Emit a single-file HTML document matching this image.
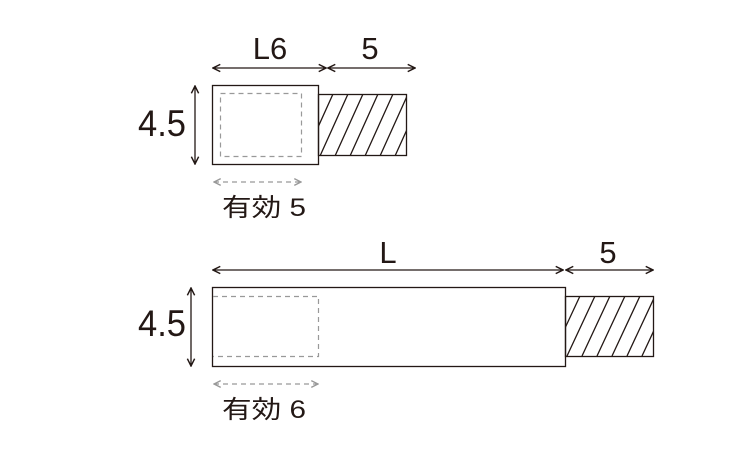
<!DOCTYPE html>
<html><head><meta charset="utf-8"><style>
html,body{margin:0;padding:0;background:#fff;}
svg{display:block;}
text{font-family:"Liberation Sans","Noto Sans CJK JP",sans-serif;fill:#231815;}
</style></head><body>
<svg width="750" height="450" viewBox="0 0 750 450" xmlns="http://www.w3.org/2000/svg">
<defs>
<marker id="a" viewBox="0 0 10 10" refX="9" refY="5" markerWidth="7" markerHeight="7" orient="auto-start-reverse"><path d="M1,1 L9,5 L1,9" fill="none" stroke="#231815" stroke-width="1.6"/></marker>
<marker id="g" viewBox="0 0 10 10" refX="9" refY="5" markerWidth="7" markerHeight="7" orient="auto-start-reverse"><path d="M1,1 L9,5 L1,9" fill="none" stroke="#999" stroke-width="1.6"/></marker>
<clipPath id="c1"><rect x="318" y="94" width="88" height="62"/></clipPath>
<clipPath id="c2"><rect x="565" y="296" width="88" height="60"/></clipPath>
</defs>
<g stroke="#231815" stroke-width="1.3" fill="none">
<rect x="212.5" y="85.5" width="106" height="79"/>
<rect x="318.5" y="94.5" width="88" height="61"/>
<g clip-path="url(#c1)">
<path d="M290,156 L318,94 M305,156 L333,94 M320,156 L348,94 M335,156 L363,94 M350,156 L378,94 M365,156 L393,94 M380,156 L408,94 M395,156 L423,94 M410,156 L438,94"/>
</g>
<line x1="213" y1="68" x2="326" y2="68" marker-start="url(#a)" marker-end="url(#a)"/>
<line x1="328" y1="68" x2="415" y2="68" marker-start="url(#a)" marker-end="url(#a)"/>
<line x1="195" y1="86" x2="195" y2="164" marker-start="url(#a)" marker-end="url(#a)"/>
<rect x="212.5" y="287.5" width="353" height="79"/>
<rect x="565.5" y="296.5" width="88" height="60"/>
<g clip-path="url(#c2)">
<path d="M537,356 L565,296 M552,356 L580,296 M567,356 L595,296 M582,356 L610,296 M597,356 L625,296 M612,356 L640,296 M627,356 L655,296 M642,356 L670,296"/>
</g>
<line x1="213" y1="270" x2="563" y2="270" marker-start="url(#a)" marker-end="url(#a)"/>
<line x1="566" y1="270" x2="653" y2="270" marker-start="url(#a)" marker-end="url(#a)"/>
<line x1="191" y1="288" x2="191" y2="366" marker-start="url(#a)" marker-end="url(#a)"/>
</g>
<g stroke="#999" stroke-width="1.2" fill="none" stroke-dasharray="5,4">
<rect x="220.5" y="93.5" width="81" height="63"/>
<path d="M213,296.5 H318.5 V356.5 H213"/>
<line x1="214" y1="182" x2="301" y2="182" marker-start="url(#g)" marker-end="url(#g)"/>
<line x1="214" y1="384" x2="318" y2="384" marker-start="url(#g)" marker-end="url(#g)"/>
</g>
<text x="270" y="59" font-size="31" text-anchor="middle">L6</text>
<text x="370" y="59" font-size="31" text-anchor="middle">5</text>
<text x="138" y="136" font-size="37" textLength="48" lengthAdjust="spacingAndGlyphs">4.5</text>
<text x="222" y="216" font-size="25" textLength="84" lengthAdjust="spacingAndGlyphs">有効 5</text>
<text x="388" y="263" font-size="31" text-anchor="middle">L</text>
<text x="608" y="263" font-size="31" text-anchor="middle">5</text>
<text x="138" y="336" font-size="37" textLength="48" lengthAdjust="spacingAndGlyphs">4.5</text>
<text x="222" y="418" font-size="25" textLength="84" lengthAdjust="spacingAndGlyphs">有効 6</text>
</svg>
</body></html>
